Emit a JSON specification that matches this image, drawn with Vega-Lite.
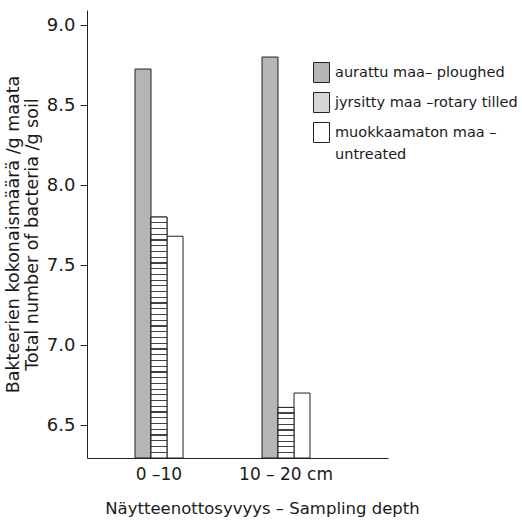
{
  "$schema": "https://vega.github.io/schema/vega-lite/v6.json",
  "width": 301,
  "height": 448,
  "autosize": {"type": "none"},
  "padding": {"left": 87, "top": 10, "right": 134, "bottom": 65},
  "background": "white",
  "config": {
    "view": {"stroke": null},
    "font": "DejaVu Sans",
    "axis": {"grid": false, "domainColor": "#222", "tickColor": "#222", "labelColor": "#1a1a1a", "titleColor": "#1a1a1a", "titleFontWeight": "normal"}
  },
  "data": {"values": [
    {"depth": "0 –10", "treatment": "aurattu maa– ploughed", "value": 8.725},
    {"depth": "0 –10", "treatment": "jyrsitty maa –rotary tilled", "value": 7.80},
    {"depth": "0 –10", "treatment": "muokkaamaton maa – untreated", "value": 7.68},
    {"depth": "10 – 20 cm", "treatment": "aurattu maa– ploughed", "value": 8.80},
    {"depth": "10 – 20 cm", "treatment": "jyrsitty maa –rotary tilled", "value": 6.61},
    {"depth": "10 – 20 cm", "treatment": "muokkaamaton maa – untreated", "value": 6.70}
  ]},
  "encoding": {
    "x": {
      "field": "depth", "type": "nominal", "sort": null,
      "scale": {"paddingInner": 0.622, "paddingOuter": 0.496, "align": 0.381},
      "axis": {"labelAngle": 0, "ticks": false, "labelFontSize": 17, "labelPadding": 8, "title": "Näytteenottosyvyys – Sampling depth", "titleFontSize": 16.5, "titlePadding": 18, "titleX": 175}
    },
    "xOffset": {
      "field": "treatment", "type": "nominal", "sort": null,
      "scale": {"domain": ["aurattu maa– ploughed", "jyrsitty maa –rotary tilled", "muokkaamaton maa – untreated"], "paddingInner": 0, "paddingOuter": 0}
    },
    "y": {
      "field": "value", "type": "quantitative",
      "scale": {"domain": [6.294, 9.094], "zero": false, "nice": false},
      "axis": {"values": [6.5, 7, 7.5, 8, 8.5, 9], "format": ".1f", "labelFontSize": 18, "tickSize": 7, "labelPadding": 5, "title": ["Bakteerien kokonaismäärä /g maata", "Total number of bacteria /g soil"], "titleFontSize": 17.5, "titleLineHeight": 19, "titlePadding": 5}
    },
    "y2": {"datum": 6.294}
  },
  "layer": [
    {
      "mark": {"type": "bar", "stroke": "#222", "strokeWidth": 1},
      "encoding": {
        "fill": {
          "field": "treatment", "type": "nominal",
          "scale": {"domain": ["aurattu maa– ploughed", "jyrsitty maa –rotary tilled", "muokkaamaton maa – untreated"], "range": ["#b5b5b5", "#d6d6d6", "#ffffff"]},
          "legend": {
            "orient": "none", "legendX": 224, "legendY": 52, "title": null, "padding": 0,
            "symbolType": "M-0.8,-1H0.8V1H-0.8Z", "symbolSize": 400,
            "symbolStrokeColor": "#222", "symbolStrokeWidth": 1,
            "labelFontSize": 14.5, "labelLimit": 300, "labelOffset": 3, "rowPadding": 5,
            "labelColor": "#1a1a1a",
            "labelExpr": "datum.label === 'muokkaamaton maa – untreated' ? ['muokkaamaton maa –', 'untreated'] : datum.label",
            "encode": {
              "labels": {"update": {"lineHeight": {"value": 22}}}
            }
          }
        }
      }
    },
    {
      "transform": [{"filter": "datum.treatment === 'jyrsitty maa –rotary tilled' && datum.depth === '0 –10'"}],
      "mark": {"type": "bar", "stroke": "#222", "strokeWidth": 1, "fill": {"gradient": "linear", "x1": 0, "y1": 0, "x2": 0, "y2": 1, "stops": [
        {"offset": 0, "color": "#fff"},
        {"offset": 0.0213, "color": "#fff"}, {"offset": 0.0213, "color": "#444"}, {"offset": 0.0263, "color": "#444"}, {"offset": 0.0263, "color": "#fff"},
        {"offset": 0.0451, "color": "#fff"}, {"offset": 0.0451, "color": "#444"}, {"offset": 0.0501, "color": "#444"}, {"offset": 0.0501, "color": "#fff"},
        {"offset": 0.0689, "color": "#fff"}, {"offset": 0.0689, "color": "#444"}, {"offset": 0.0739, "color": "#444"}, {"offset": 0.0739, "color": "#fff"},
        {"offset": 0.0927, "color": "#fff"}, {"offset": 0.0927, "color": "#444"}, {"offset": 0.0977, "color": "#444"}, {"offset": 0.0977, "color": "#fff"},
        {"offset": 0.1165, "color": "#fff"}, {"offset": 0.1165, "color": "#444"}, {"offset": 0.1215, "color": "#444"}, {"offset": 0.1215, "color": "#fff"},
        {"offset": 0.1404, "color": "#fff"}, {"offset": 0.1404, "color": "#444"}, {"offset": 0.1454, "color": "#444"}, {"offset": 0.1454, "color": "#fff"},
        {"offset": 0.1642, "color": "#fff"}, {"offset": 0.1642, "color": "#444"}, {"offset": 0.1692, "color": "#444"}, {"offset": 0.1692, "color": "#fff"},
        {"offset": 0.1880, "color": "#fff"}, {"offset": 0.1880, "color": "#444"}, {"offset": 0.1930, "color": "#444"}, {"offset": 0.1930, "color": "#fff"},
        {"offset": 0.2118, "color": "#fff"}, {"offset": 0.2118, "color": "#444"}, {"offset": 0.2168, "color": "#444"}, {"offset": 0.2168, "color": "#fff"},
        {"offset": 0.2356, "color": "#fff"}, {"offset": 0.2356, "color": "#444"}, {"offset": 0.2406, "color": "#444"}, {"offset": 0.2406, "color": "#fff"},
        {"offset": 0.2594, "color": "#fff"}, {"offset": 0.2594, "color": "#444"}, {"offset": 0.2644, "color": "#444"}, {"offset": 0.2644, "color": "#fff"},
        {"offset": 0.2832, "color": "#fff"}, {"offset": 0.2832, "color": "#444"}, {"offset": 0.2882, "color": "#444"}, {"offset": 0.2882, "color": "#fff"},
        {"offset": 0.3070, "color": "#fff"}, {"offset": 0.3070, "color": "#444"}, {"offset": 0.3120, "color": "#444"}, {"offset": 0.3120, "color": "#fff"},
        {"offset": 0.3308, "color": "#fff"}, {"offset": 0.3308, "color": "#444"}, {"offset": 0.3358, "color": "#444"}, {"offset": 0.3358, "color": "#fff"},
        {"offset": 0.3546, "color": "#fff"}, {"offset": 0.3546, "color": "#444"}, {"offset": 0.3596, "color": "#444"}, {"offset": 0.3596, "color": "#fff"},
        {"offset": 0.3785, "color": "#fff"}, {"offset": 0.3785, "color": "#444"}, {"offset": 0.3835, "color": "#444"}, {"offset": 0.3835, "color": "#fff"},
        {"offset": 0.4023, "color": "#fff"}, {"offset": 0.4023, "color": "#444"}, {"offset": 0.4073, "color": "#444"}, {"offset": 0.4073, "color": "#fff"},
        {"offset": 0.4261, "color": "#fff"}, {"offset": 0.4261, "color": "#444"}, {"offset": 0.4311, "color": "#444"}, {"offset": 0.4311, "color": "#fff"},
        {"offset": 0.4499, "color": "#fff"}, {"offset": 0.4499, "color": "#444"}, {"offset": 0.4549, "color": "#444"}, {"offset": 0.4549, "color": "#fff"},
        {"offset": 0.4737, "color": "#fff"}, {"offset": 0.4737, "color": "#444"}, {"offset": 0.4787, "color": "#444"}, {"offset": 0.4787, "color": "#fff"},
        {"offset": 0.4975, "color": "#fff"}, {"offset": 0.4975, "color": "#444"}, {"offset": 0.5025, "color": "#444"}, {"offset": 0.5025, "color": "#fff"},
        {"offset": 0.5213, "color": "#fff"}, {"offset": 0.5213, "color": "#444"}, {"offset": 0.5263, "color": "#444"}, {"offset": 0.5263, "color": "#fff"},
        {"offset": 0.5451, "color": "#fff"}, {"offset": 0.5451, "color": "#444"}, {"offset": 0.5501, "color": "#444"}, {"offset": 0.5501, "color": "#fff"},
        {"offset": 0.5689, "color": "#fff"}, {"offset": 0.5689, "color": "#444"}, {"offset": 0.5739, "color": "#444"}, {"offset": 0.5739, "color": "#fff"},
        {"offset": 0.5927, "color": "#fff"}, {"offset": 0.5927, "color": "#444"}, {"offset": 0.5977, "color": "#444"}, {"offset": 0.5977, "color": "#fff"},
        {"offset": 0.6166, "color": "#fff"}, {"offset": 0.6166, "color": "#444"}, {"offset": 0.6216, "color": "#444"}, {"offset": 0.6216, "color": "#fff"},
        {"offset": 0.6404, "color": "#fff"}, {"offset": 0.6404, "color": "#444"}, {"offset": 0.6454, "color": "#444"}, {"offset": 0.6454, "color": "#fff"},
        {"offset": 0.6642, "color": "#fff"}, {"offset": 0.6642, "color": "#444"}, {"offset": 0.6692, "color": "#444"}, {"offset": 0.6692, "color": "#fff"},
        {"offset": 0.6880, "color": "#fff"}, {"offset": 0.6880, "color": "#444"}, {"offset": 0.6930, "color": "#444"}, {"offset": 0.6930, "color": "#fff"},
        {"offset": 0.7118, "color": "#fff"}, {"offset": 0.7118, "color": "#444"}, {"offset": 0.7168, "color": "#444"}, {"offset": 0.7168, "color": "#fff"},
        {"offset": 0.7356, "color": "#fff"}, {"offset": 0.7356, "color": "#444"}, {"offset": 0.7406, "color": "#444"}, {"offset": 0.7406, "color": "#fff"},
        {"offset": 0.7594, "color": "#fff"}, {"offset": 0.7594, "color": "#444"}, {"offset": 0.7644, "color": "#444"}, {"offset": 0.7644, "color": "#fff"},
        {"offset": 0.7832, "color": "#fff"}, {"offset": 0.7832, "color": "#444"}, {"offset": 0.7882, "color": "#444"}, {"offset": 0.7882, "color": "#fff"},
        {"offset": 0.8070, "color": "#fff"}, {"offset": 0.8070, "color": "#444"}, {"offset": 0.8120, "color": "#444"}, {"offset": 0.8120, "color": "#fff"},
        {"offset": 0.8308, "color": "#fff"}, {"offset": 0.8308, "color": "#444"}, {"offset": 0.8358, "color": "#444"}, {"offset": 0.8358, "color": "#fff"},
        {"offset": 0.8546, "color": "#fff"}, {"offset": 0.8546, "color": "#444"}, {"offset": 0.8596, "color": "#444"}, {"offset": 0.8596, "color": "#fff"},
        {"offset": 0.8785, "color": "#fff"}, {"offset": 0.8785, "color": "#444"}, {"offset": 0.8835, "color": "#444"}, {"offset": 0.8835, "color": "#fff"},
        {"offset": 0.9023, "color": "#fff"}, {"offset": 0.9023, "color": "#444"}, {"offset": 0.9073, "color": "#444"}, {"offset": 0.9073, "color": "#fff"},
        {"offset": 0.9261, "color": "#fff"}, {"offset": 0.9261, "color": "#444"}, {"offset": 0.9311, "color": "#444"}, {"offset": 0.9311, "color": "#fff"},
        {"offset": 0.9499, "color": "#fff"}, {"offset": 0.9499, "color": "#444"}, {"offset": 0.9549, "color": "#444"}, {"offset": 0.9549, "color": "#fff"},
        {"offset": 0.9737, "color": "#fff"}, {"offset": 0.9737, "color": "#444"}, {"offset": 0.9787, "color": "#444"}, {"offset": 0.9787, "color": "#fff"},
        {"offset": 1, "color": "#fff"}
      ]}}
    },
    {
      "transform": [{"filter": "datum.treatment === 'jyrsitty maa –rotary tilled' && datum.depth === '10 – 20 cm'"}],
      "mark": {"type": "bar", "stroke": "#222", "strokeWidth": 1, "fill": {"gradient": "linear", "x1": 0, "y1": 0, "x2": 0, "y2": 1, "stops": [
        {"offset": 0, "color": "#fff"},
        {"offset": 0.0991, "color": "#fff"}, {"offset": 0.0991, "color": "#444"}, {"offset": 0.1231, "color": "#444"}, {"offset": 0.1231, "color": "#fff"},
        {"offset": 0.2102, "color": "#fff"}, {"offset": 0.2102, "color": "#444"}, {"offset": 0.2342, "color": "#444"}, {"offset": 0.2342, "color": "#fff"},
        {"offset": 0.3213, "color": "#fff"}, {"offset": 0.3213, "color": "#444"}, {"offset": 0.3453, "color": "#444"}, {"offset": 0.3453, "color": "#fff"},
        {"offset": 0.4324, "color": "#fff"}, {"offset": 0.4324, "color": "#444"}, {"offset": 0.4564, "color": "#444"}, {"offset": 0.4564, "color": "#fff"},
        {"offset": 0.5436, "color": "#fff"}, {"offset": 0.5436, "color": "#444"}, {"offset": 0.5676, "color": "#444"}, {"offset": 0.5676, "color": "#fff"},
        {"offset": 0.6547, "color": "#fff"}, {"offset": 0.6547, "color": "#444"}, {"offset": 0.6787, "color": "#444"}, {"offset": 0.6787, "color": "#fff"},
        {"offset": 0.7658, "color": "#fff"}, {"offset": 0.7658, "color": "#444"}, {"offset": 0.7898, "color": "#444"}, {"offset": 0.7898, "color": "#fff"},
        {"offset": 0.8769, "color": "#fff"}, {"offset": 0.8769, "color": "#444"}, {"offset": 0.9009, "color": "#444"}, {"offset": 0.9009, "color": "#fff"},
        {"offset": 1, "color": "#fff"}
      ]}}
    }
  ]
}
